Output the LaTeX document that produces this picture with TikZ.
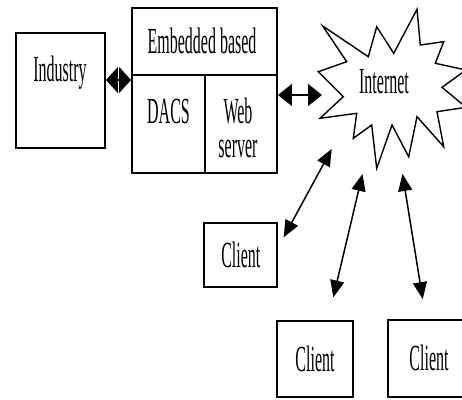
\documentclass[tikz,border=0pt]{standalone}
\usepackage{fontspec}
\usepackage{graphicx}
\setmainfont{Liberation Serif}
\usetikzlibrary{arrows.meta}
\newcommand\vtxt[1]{\scalebox{1}[2.3]{#1}}
\begin{document}
\begin{tikzpicture}[x=1pt,y=-1pt,
  every node/.style={font=\fontsize{16}{15}\selectfont},
  boxnode/.style={draw, line width=1.9pt, inner sep=0pt},
  lbl/.style={inner sep=0pt, anchor=base},
  dblh/.style={line width=1.8pt, {Triangle[length=14pt,width=22pt]}-{Triangle[length=14pt,width=22pt]}},
  dbls/.style={line width=1.6pt, {Triangle[length=12pt,width=26pt]}-{Triangle[length=12pt,width=26pt]}},
  dbld/.style={line width=1.5pt, {Triangle[length=17pt,width=14pt]}-{Triangle[length=17pt,width=14pt]}},
  starline/.style={draw, line width=1.4pt, line join=miter}]
\useasboundingbox (0,0) rectangle (462,399);
% Industry
\node[boxnode, minimum width=89pt, minimum height=115pt] (ind) at (60.5,90.5) {};
\node[lbl] (indt) at (60,81) {\vtxt{Industry}};
% Embedded system
\node[boxnode, minimum width=145pt, minimum height=67pt] (emb) at (204.5,41.5) {};
\node[boxnode, minimum width=73pt, minimum height=98pt] (dacs) at (168.5,124) {};
\node[boxnode, minimum width=72pt, minimum height=98pt] (web) at (241,124) {};
\node[lbl] (embt) at (202,53) {\vtxt{Embedded based}};
\node[lbl] (dacst) at (168.5,123) {\vtxt{DACS}};
\node[lbl] (webt) at (238,123) {\vtxt{\begin{tabular}[t]{@{}c@{}}Web\\server\end{tabular}}};
% Internet star
\path[starline] (417,9.3) -- (420.3,45) -- (443.7,41.7) -- (435.3,63.3) -- (466,70)
  -- (442,87.3) -- (466,107.3) -- (437,111.7) -- (443.7,146.7) -- (417,116.7)
  -- (408.7,156.7) -- (392,125) -- (376.7,168.3) -- (371.7,125) -- (353.3,138.3)
  -- (356.7,113.3) -- (320,118.3) -- (343.3,96.7) -- (318.3,71.7) -- (346.7,61.7)
  -- (322.7,26) -- (368.3,56.7) -- (376.7,26.7) -- (393.7,53.3) -- cycle;
\node[lbl] (inet) at (384,93) {\vtxt{Internet}};
\coordinate (si) at (322,95);
\coordinate (s1) at (331.7,149);
\coordinate (s2) at (362.5,174);
\coordinate (s3) at (402.5,174);
% Clients
\node[boxnode, minimum width=73pt, minimum height=64.6pt] (c1) at (240.8,255) {\vtxt{Client}};
\node[boxnode, minimum width=75.4pt, minimum height=76pt] (c2) at (315,358.7) {\vtxt{Client}};
\node[boxnode, minimum width=82pt, minimum height=76.7pt] (c3) at (429,358.4) {\vtxt{Client}};
% Connectors
\coordinate (ia) at ([yshift=10.5pt]ind.east);
\draw[dbls] (ia) -- (ia -| dacs.west);
\coordinate (wa) at ([yshift=29pt]web.east);
\draw[dblh] (wa) -- (wa -| si);
\draw[dbld] ([xshift=5.4pt,yshift=-15.6pt]c1.north east) -- (s1);
\draw[dbld] ([xshift=18.3pt,yshift=22.4pt]c2.north) -- (s2);
\draw[dbld] ([xshift=-6.3pt,yshift=20pt]c3.north) -- (s3);
\end{tikzpicture}
\end{document}
